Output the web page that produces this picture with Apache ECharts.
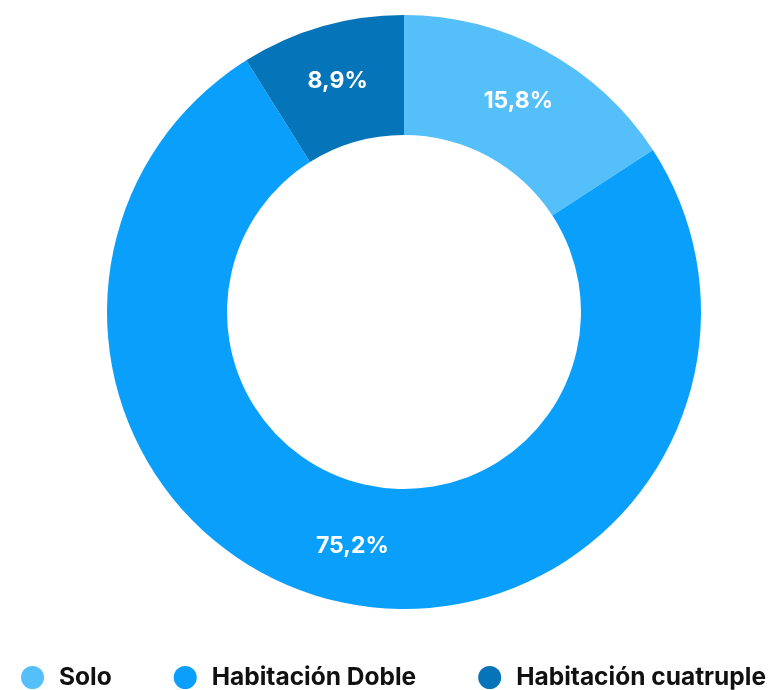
<!DOCTYPE html>
<html>
<head>
<meta charset="utf-8">
<script src="https://cdn.jsdelivr.net/npm/echarts@6/dist/echarts.min.js"></script>
<style>
  html, body { margin: 0; padding: 0; background: #fff; }
  #main { width: 778px; height: 690px; }
</style>
</head>
<body>
<div id="main"></div>
<script>
// categorías y valores (porcentajes)
var categorias = ['Solo', 'Habitación Doble', 'Habitación cuatruple'];
var valores = [15.8, 75.2, 8.9];
var colores = ['#55bffa', '#0a9ffa', '#0674b8'];

var datos = categorias.map(function (c, i) {
  return { name: c, value: valores[i] };
});

var myChart = echarts.init(document.getElementById('main'));

var option = {
  animation: false,
  color: colores,
  legend: {
    top: 660,
    left: 16,
    width: 800,
    icon: 'circle',
    itemWidth: 23,
    itemHeight: 23,
    itemGap: 62,
    textStyle: {
      fontFamily: 'Inter',
      fontWeight: 'bold',
      fontSize: 24.5,
      color: '#111',
      padding: [0, 0, 0, 10]
    },
    data: categorias
  },
  series: [
    {
      type: 'pie',
      center: [404, 312],
      radius: [177, 297],
      startAngle: 90,
      clockwise: true,
      avoidLabelOverlap: false,
      label: {
        show: true,
        position: 'inside',
        color: '#fff',
        fontFamily: 'Inter',
        fontWeight: 'bold',
        fontSize: 23,
        formatter: function (p) {
          return String(p.value).replace('.', ',') + '%';
        }
      },
      labelLine: { show: false },
      emphasis: { disabled: true },
      data: datos
    }
  ]
};

myChart.setOption(option);
</script>
</body>
</html>
